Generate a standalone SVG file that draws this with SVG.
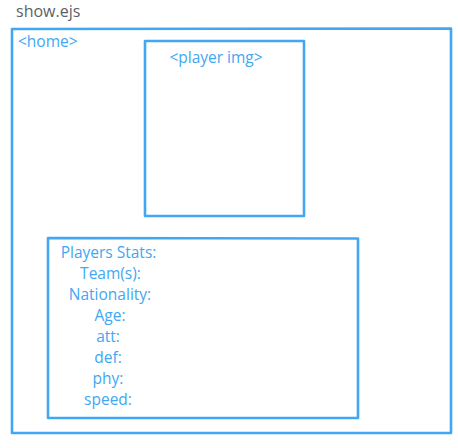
<svg xmlns="http://www.w3.org/2000/svg" width="458" height="448" viewBox="0 0 458 448">
<style>
.box{fill:none;stroke:#42a7f2;stroke-width:2.6;stroke-linejoin:round}
.t{font-family:"Open Sans","Liberation Sans",sans-serif;font-size:15.5px;fill:#42a7f2}
.title{font-family:"Open Sans","Liberation Sans",sans-serif;font-size:16px;fill:#5b5f66}
</style>
<rect width="458" height="448" fill="#fff"/>
<text class="title" x="16" y="17">show.ejs</text>
<g id="home">
<path class="box" d="M12,29 L451,28.5 L451,433 L12,433 Z"/>
<text class="t" x="18" y="47">&lt;home&gt;</text>
</g>
<g id="player-img">
<path class="box" d="M145,41 L304,41 L304,216 L145,216 Z"/>
<text class="t" x="216" y="63" text-anchor="middle">&lt;player img&gt;</text>
</g>
<g id="stats">
<path class="box" d="M48,238 L358,238.5 L358,418 L48,418 Z"/>
<g class="t" text-anchor="middle">
<text x="108.5" y="258">Players Stats:</text>
<text x="110.5" y="279">Team(s):</text>
<text x="110" y="300">Nationality:</text>
<text x="110" y="321">Age:</text>
<text x="108" y="342">att:</text>
<text x="108" y="363">def:</text>
<text x="108" y="384">phy:</text>
<text x="108" y="405">speed:</text>
</g>
</g>
<g id="connectors"></g>
</svg>
